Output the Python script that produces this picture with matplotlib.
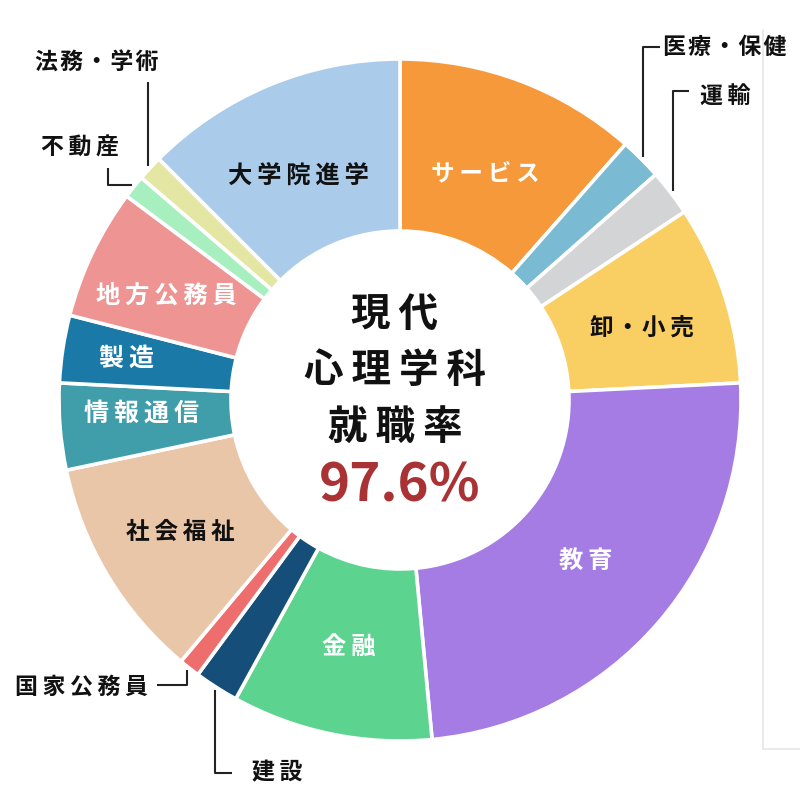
import numpy as np
import matplotlib
matplotlib.use("Agg")
import matplotlib.pyplot as plt

plt.rcParams['font.family'] = ['Noto Sans CJK JP', 'DejaVu Sans']

categories = ['サービス', '医療・保健', '運輸', '卸・小売', '教育', '金融', '建設',
              '国家公務員', '社会福祉', '情報通信', '製造', '地方公務員', '不動産',
              '法務・学術', '大学院進学']
values = [11.5, 2.0, 2.2, 8.5, 24.3, 9.5, 2.1, 1.0, 10.6, 4.1, 3.2, 6.2, 1.1, 1.2, 12.5]
colors = ['#F5993B', '#7BBAD3', '#D3D4D6', '#F9CE63', '#A57CE3', '#5CD38E', '#154E78',
          '#EE6E6E', '#EAC6A8', '#3F9EAA', '#1B79A8', '#EE9493', '#A8EFC0', '#E4E7A4',
          '#AACCEA']
title_lines = ['現代', '心理学科', '就職率']
rate_text = '97.6%'

# in-wedge labels: category -> (text color, radius factor, angle offset deg, font size)
inner_labels = {
    'サービス': ('white', 0.71, 0.0, 17),
    '卸・小売': ('#111111', 0.74, -1.5, 17),
    '教育': ('white', 0.72, 0.0, 17.5),
    '金融': ('white', 0.74, 0.0, 17.5),
    '社会福祉': ('#111111', 0.75, 0.0, 17),
    '情報通信': ('white', 0.76, -1.5, 18),
    '製造': ('white', 0.81, 0.0, 18),
    '地方公務員': ('white', 0.75, 1.5, 17.5),
    '大学院進学': ('#111111', 0.72, 2.0, 17.5),
}

TS = '\u2009'  # thin space used as letter spacing
HS = '\u200a'  # hair space


def spaced(s, sep=TS):
    out = ''
    for i, ch in enumerate(s):
        out += ch
        if i < len(s) - 1:
            out += HS if (ch == '・' or s[i + 1] == '・') else sep
    return out


fig = plt.figure(figsize=(8, 8), dpi=100)
ax = fig.add_axes([0, 0, 1, 1])


def Y(y):
    return 800 - y


CX, CY, R = 400, Y(400), 341
W = 172

wedges, _ = ax.pie(values, colors=colors, startangle=90, counterclock=False,
                   center=(CX, CY), radius=R, frame=True,
                   wedgeprops=dict(width=W, edgecolor='white', linewidth=2.6))
ax.set_xlim(0, 800)
ax.set_ylim(0, 800)
ax.set_aspect('equal')
ax.axis('off')

mid = {}
for cat, w in zip(categories, wedges):
    mid[cat] = (w.theta1 + w.theta2) / 2

for cat, (col, rf, da, fs) in inner_labels.items():
    a = np.deg2rad(mid[cat] + da)
    x = CX + R * rf * np.cos(a)
    y = CY + R * rf * np.sin(a)
    ax.text(x, y, spaced(cat), color=col, fontsize=fs, fontweight='bold',
            ha='center', va='center')

# external labels with leader lines
lc = '#222222'
lw = 1.5
tc = '#111111'
efs = 16.5


def start(cat, r=R + 3):
    a = np.deg2rad(mid[cat])
    return CX + r * np.cos(a), CY + r * np.sin(a)


# 医療・保健
x0, y0 = start('医療・保健')
ax.plot([x0, x0, x0 + 17], [y0, Y(47), Y(47)], color=lc, lw=lw, solid_capstyle='butt')
ax.text(663, Y(48), spaced('医療・保健', HS), fontsize=efs, fontweight='bold',
        ha='left', va='center', color=tc)
# 運輸
x0, y0 = start('運輸')
ax.plot([x0, x0, x0 + 16], [y0, Y(91), Y(91)], color=lc, lw=lw, solid_capstyle='butt')
ax.text(700, Y(97), spaced('運輸'), fontsize=efs, fontweight='bold',
        ha='left', va='center', color=tc)
# 法務・学術
x0, y0 = start('法務・学術')
ax.plot([x0, x0], [y0, Y(82)], color=lc, lw=lw, solid_capstyle='butt')
ax.text(97, Y(63), spaced('法務・学術', HS), fontsize=efs, fontweight='bold',
        ha='center', va='center', color=tc)
# 不動産
x0, y0 = start('不動産')
ax.plot([x0, x0 - 24, x0 - 24], [y0, y0, y0 + 17], color=lc, lw=lw, solid_capstyle='butt')
ax.text(80, Y(148), spaced('不動産'), fontsize=efs, fontweight='bold',
        ha='center', va='center', color=tc)
# 国家公務員
x0, y0 = start('国家公務員')
ax.plot([x0, x0, x0 - 30], [y0, Y(685), Y(685)], color=lc, lw=lw, solid_capstyle='butt')
ax.text(148, Y(687), spaced('国家公務員'), fontsize=efs, fontweight='bold',
        ha='right', va='center', color=tc)
# 建設
x0, y0 = start('建設')
ax.plot([x0, x0, x0 + 17], [y0, Y(773), Y(773)], color=lc, lw=lw, solid_capstyle='butt')
ax.text(252, Y(773), spaced('建設'), fontsize=efs, fontweight='bold',
        ha='left', va='center', color=tc)

# center text
ys = [314, 371, 428]
for t, yy in zip(title_lines, ys):
    ax.text(CX - 5, Y(yy), spaced(t), fontsize=28.5, fontweight='bold', ha='center',
            va='center', color=tc)
ax.text(CX, Y(486), rate_text, fontsize=38, fontweight='bold', ha='center',
        va='center', color='#A93235')

# faint container border on the right
ax.plot([763, 763, 800], [Y(30), Y(749), Y(749)], color='#E6E6E6', lw=1.2)

fig.savefig('out.png', dpi=100)
